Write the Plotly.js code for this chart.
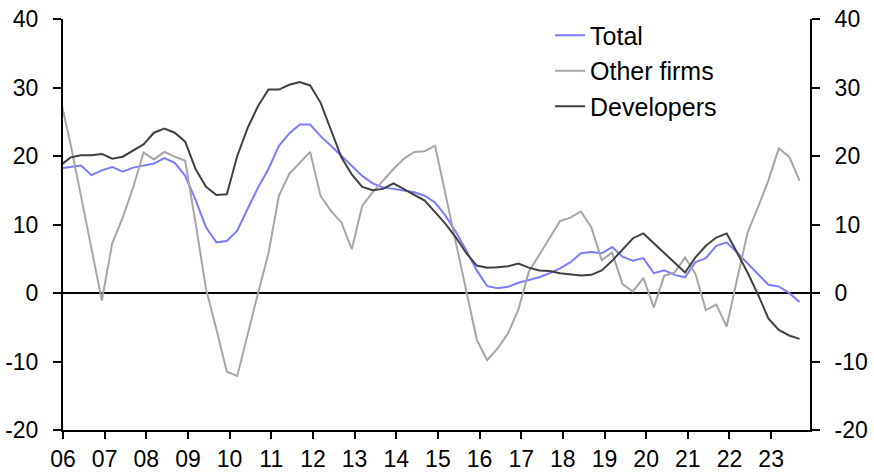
<!DOCTYPE html>
<html>
<head>
<meta charset="utf-8">
<script src="https://cdn.plot.ly/plotly-3.0.1.min.js"></script>
<style>
  html, body { margin: 0; padding: 0; background: #fff; }
  #chart { width: 874px; height: 473px; }
</style>
</head>
<body>
<div id="chart"></div>
<script>
// Quarterly data, 2006 Q1 to 2023 Q4 (72 quarters)
const startYear = 2006;
const nQuarters = 72;

const total = [
  18.2, 18.4, 18.6, 17.2, 17.9, 18.4, 17.7, 18.3, 18.6, 18.9, 19.7, 19.0,
  17.1, 13.6, 9.6, 7.4, 7.6, 9.1, 12.3, 15.4, 18.1, 21.5, 23.3, 24.6,
  24.6, 22.9, 21.5, 20.0, 18.6, 17.1, 16.0, 15.4, 15.2, 15.0, 14.7, 14.2,
  13.2, 11.3, 8.9, 6.2, 3.3, 1.0, 0.7, 0.9, 1.5, 1.9, 2.3, 2.9,
  3.6, 4.5, 5.8, 6.0, 5.8, 6.7, 5.3, 4.7, 5.1, 2.9, 3.3, 2.65,
  2.3, 4.5, 5.1, 6.9, 7.4, 5.9, 4.3, 2.7, 1.2, 0.95, 0.0, -1.3
];

const otherFirms = [
  28.5, 21.7, 14.1, 6.5, -1.1, 7.3, 11.0, 15.4, 20.5, 19.5, 20.6, 19.9,
  19.3, 10.2, 0.6, -5.3, -11.5, -12.1, -5.9, 0.0, 5.8, 14.2, 17.4, 19.0,
  20.6, 14.2, 12.0, 10.3, 6.4, 12.7, 14.7, 16.4, 18.1, 19.6, 20.6, 20.7,
  21.5, 14.4, 7.3, 0.2, -6.8, -9.8, -8.1, -5.9, -2.4, 3.1, 5.6, 8.0,
  10.5, 11.0, 11.9, 9.6, 4.8, 5.9, 1.3, 0.2, 2.2, -2.1, 2.5, 3.0,
  5.2, 2.8, -2.5, -1.7, -4.9, 2.0, 8.8, 12.5, 16.4, 21.1, 19.9, 16.4
];

const developers = [
  18.6, 19.8, 20.1, 20.1, 20.3, 19.6, 19.9, 20.8, 21.7, 23.4, 24.0, 23.4,
  22.1, 18.1, 15.5, 14.3, 14.4, 20.0, 24.1, 27.3, 29.7, 29.7, 30.4, 30.8,
  30.3, 27.8, 23.7, 19.8, 17.3, 15.5, 15.0, 15.2, 16.0, 15.2, 14.3, 13.5,
  11.8, 10.1, 8.1, 5.8, 4.0, 3.7, 3.75, 3.9, 4.3, 3.7, 3.3, 3.2,
  2.9, 2.7, 2.55, 2.65, 3.3, 4.7, 6.4, 8.0, 8.7, 7.25, 5.8, 4.4,
  3.0, 5.2, 6.9, 8.1, 8.7, 5.9, 3.0, -0.2, -3.7, -5.4, -6.2, -6.7
];

const seriesNames = ["Total", "Other firms", "Developers"];
const seriesColors = ["#7b7bff", "#a6a6a6", "#404040"];

const xTickLabels = ["06","07","08","09","10","11","12","13","14","15",
                     "16","17","18","19","20","21","22","23"];
const yTickVals = [-20, -10, 0, 10, 20, 30, 40];
const yTickText = ["-20", "-10", "0", "10", "20", "30", "40"];

// quarter positions in years (Q1 = year + 0)
const xq = [];
for (let k = 0; k < nQuarters; k++) xq.push(startYear + k / 4);

// axis placement: first year tick sits just after the first quarter
const axisShift = 0.067;
const xTickVals = xTickLabels.map((_, i) => startYear + i + axisShift);

const font = "Liberation Sans, Arial, sans-serif";
const dataSets = [total, otherFirms, developers];

const traces = dataSets.map((vals, i) => ({
  x: xq,
  y: vals,
  type: "scatter",
  mode: "lines",
  name: seriesNames[i],
  line: { color: seriesColors[i], width: 2 },
  hoverinfo: "skip"
}));

// invisible copy to anchor the right-hand axis
traces.push({
  x: xq, y: total, type: "scatter", mode: "lines", yaxis: "y2",
  line: { color: "rgba(0,0,0,0)", width: 0 }, showlegend: false, hoverinfo: "skip"
});

const layout = {
  width: 874,
  height: 473,
  margin: { l: 63, r: 64, t: 17, b: 43, pad: 0 },
  paper_bgcolor: "#ffffff",
  plot_bgcolor: "#ffffff",
  font: { family: font, size: 23, color: "#000" },
  showlegend: true,
  legend: {
    x: 0.652, y: 1.016, xanchor: "left", yanchor: "top",
    bgcolor: "rgba(0,0,0,0)",
    font: { family: font, size: 25, color: "#000" },
    traceorder: "normal"
  },
  xaxis: {
    range: [startYear + axisShift, startYear + 18],
    tickmode: "array",
    tickvals: xTickVals,
    ticktext: xTickLabels,
    ticks: "outside", ticklen: 7, tickwidth: 2, tickcolor: "#000",
    showline: true, linecolor: "#000", linewidth: 2,
    showgrid: false, zeroline: false,
    tickfont: { family: font, size: 23, color: "#000" },
    fixedrange: true
  },
  yaxis: {
    range: [-20, 40],
    tickmode: "array",
    tickvals: yTickVals, ticktext: yTickText,
    ticks: "outside", ticklen: 8, tickwidth: 2, tickcolor: "#000",
    showline: true, linecolor: "#000", linewidth: 2,
    showgrid: false,
    zeroline: true, zerolinecolor: "#000", zerolinewidth: 2,
    tickfont: { family: font, size: 23, color: "#000" },
    ticklabelstandoff: 10,
    fixedrange: true
  },
  yaxis2: {
    range: [-20, 40],
    overlaying: "y", side: "right",
    tickmode: "array",
    tickvals: yTickVals, ticktext: yTickText,
    ticks: "outside", ticklen: 8, tickwidth: 2, tickcolor: "#000",
    showline: true, linecolor: "#000", linewidth: 2,
    showgrid: false, zeroline: false,
    tickfont: { family: font, size: 23, color: "#000" },
    ticklabelstandoff: 10,
    fixedrange: true
  }
};

Plotly.newPlot("chart", traces, layout, { displayModeBar: false, staticPlot: true });
</script>
</body>
</html>
